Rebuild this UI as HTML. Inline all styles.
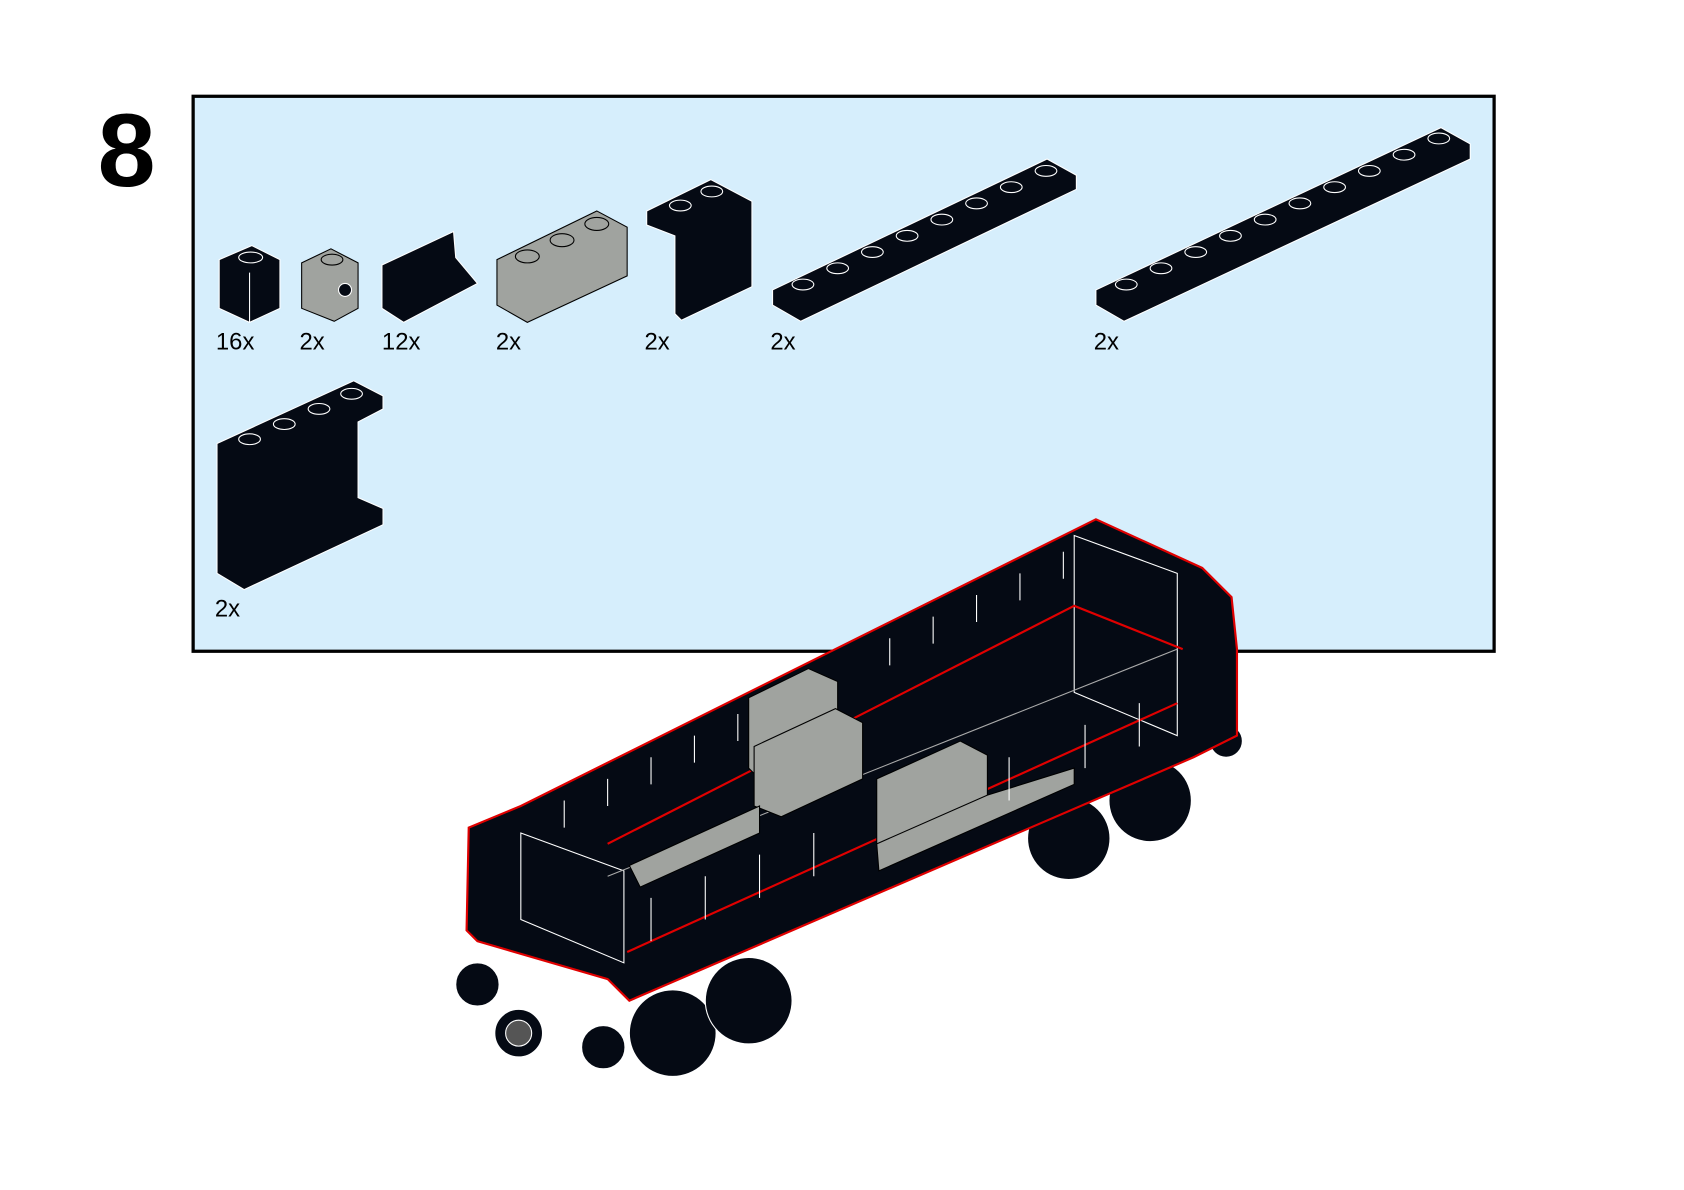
<!DOCTYPE html>
<html><head><style>html,body{margin:0;padding:0;background:#fff}svg{display:block}</style></head><body>
<svg width="1684" height="1190" viewBox="0 0 1552 1100" preserveAspectRatio="none" xmlns="http://www.w3.org/2000/svg" font-family="Liberation Sans, sans-serif">
<rect width="1552" height="1100" fill="#fff"/>
<text x="90" y="172" font-size="96" font-weight="bold">8</text>
<rect x="178" y="89" width="1199" height="513" fill="#d6eefc" stroke="#000" stroke-width="3"/>
<g fill="#050a14" stroke="#fff" stroke-width="1">
<!-- 1x1 brick -->
<polygon points="202,240 232,227 258,240 258,285 230,298 202,285"/>
<line x1="230" y1="252" x2="230" y2="298"/>
<ellipse cx="231" cy="238" rx="11" ry="5"/>
<!-- gray 1x1 -->
<polygon points="278,243 305,230 330,243 330,285 308,297 278,285" fill="#a0a39f" stroke="#000"/>
<ellipse cx="306" cy="240" rx="10" ry="5" fill="#a0a39f" stroke="#000"/>
<circle cx="318" cy="268" r="6" fill="#050a14"/>
<!-- panel -->
<polygon points="352,245 418,214 420,238 440,262 372,298 352,285"/>
<!-- gray 1x3 -->
<polygon points="458,240 550,195 578,210 578,255 486,298 458,282" fill="#a0a39f" stroke="#000"/>
<ellipse cx="486" cy="237" rx="11" ry="6" fill="#a0a39f" stroke="#000"/>
<ellipse cx="518" cy="222" rx="11" ry="6" fill="#a0a39f" stroke="#000"/>
<ellipse cx="550" cy="207" rx="11" ry="6" fill="#a0a39f" stroke="#000"/>
<!-- bracket 2x -->
<polygon points="596,195 655,166 693,186 693,265 628,296 622,290 622,218 596,208"/>
<ellipse cx="627" cy="190" rx="10" ry="5"/><ellipse cx="656" cy="177" rx="10" ry="5"/>
<!-- plates -->
<polygon points="712,268 965,147 992,162 992,175 738,297 712,282"/>
<polygon points="1010,268 1328,118 1355,133 1355,147 1036,297 1010,282"/>
<g>
<ellipse cx="740" cy="263" rx="10" ry="5"/><ellipse cx="772" cy="248" rx="10" ry="5"/><ellipse cx="804" cy="233" rx="10" ry="5"/><ellipse cx="836" cy="218" rx="10" ry="5"/><ellipse cx="868" cy="203" rx="10" ry="5"/><ellipse cx="900" cy="188" rx="10" ry="5"/><ellipse cx="932" cy="173" rx="10" ry="5"/><ellipse cx="964" cy="158" rx="10" ry="5"/>
<ellipse cx="1038" cy="263" rx="10" ry="5"/><ellipse cx="1070" cy="248" rx="10" ry="5"/><ellipse cx="1102" cy="233" rx="10" ry="5"/><ellipse cx="1134" cy="218" rx="10" ry="5"/><ellipse cx="1166" cy="203" rx="10" ry="5"/><ellipse cx="1198" cy="188" rx="10" ry="5"/><ellipse cx="1230" cy="173" rx="10" ry="5"/><ellipse cx="1262" cy="158" rx="10" ry="5"/><ellipse cx="1294" cy="143" rx="10" ry="5"/><ellipse cx="1326" cy="128" rx="10" ry="5"/>
</g>
<!-- big panel -->
<polygon points="200,410 326,352 353,366 353,378 330,390 330,460 353,470 353,485 225,545 200,530"/>
<ellipse cx="230" cy="406" rx="10" ry="5"/><ellipse cx="262" cy="392" rx="10" ry="5"/><ellipse cx="294" cy="378" rx="10" ry="5"/><ellipse cx="324" cy="364" rx="10" ry="5"/>
</g>
<g font-size="22" fill="#000">
<text x="199" y="323">16x</text><text x="276" y="323">2x</text><text x="352" y="323">12x</text><text x="457" y="323">2x</text><text x="594" y="323">2x</text><text x="710" y="323">2x</text><text x="1008" y="323">2x</text><text x="198" y="570">2x</text>
</g>
<!-- train -->
<g stroke="#fff" stroke-width="1">
<circle cx="440" cy="910" r="20" fill="#050a14"/>
<circle cx="556" cy="968" r="20" fill="#050a14"/>
<circle cx="478" cy="955" r="22" fill="#050a14"/>
<circle cx="478" cy="955" r="12" fill="#555"/>
<circle cx="620" cy="955" r="40" fill="#050a14"/>
<circle cx="690" cy="925" r="40" fill="#050a14"/>
<circle cx="985" cy="775" r="38" fill="#050a14"/>
<circle cx="1060" cy="740" r="38" fill="#050a14"/>
<circle cx="1130" cy="685" r="15" fill="#050a14"/>
<polygon points="432,765 480,745 1010,480 1108,525 1135,552 1140,600 1140,680 1100,700 580,925 560,905 440,870 430,860" fill="#050a14" stroke="#e00000" stroke-width="2"/>
<polygon points="480,770 575,805 575,890 480,850" fill="#050a14"/>
<polygon points="990,495 1085,530 1085,680 990,640" fill="#050a14"/>
<polyline points="560,780 990,560 1090,600" fill="none" stroke="#e00000" stroke-width="2"/>
<polyline points="560,810 1085,600" fill="none" stroke="#aaa"/>
<polyline points="578,880 1085,650" fill="none" stroke="#e00000" stroke-width="2"/>
<polygon points="690,645 745,618 772,630 772,690 700,720 690,710" fill="#a0a39f" stroke="#000"/>
<polygon points="695,690 770,655 795,668 795,720 720,755 695,745" fill="#a0a39f" stroke="#000"/>
<polygon points="808,720 885,685 910,698 910,750 835,790 808,780" fill="#a0a39f" stroke="#000"/>
<polygon points="808,780 910,735 990,710 990,725 810,805" fill="#a0a39f" stroke="#000"/>
<polygon points="580,800 700,745 700,770 590,820" fill="#a0a39f" stroke="#000"/>
</g>
<g stroke="#fff" fill="none" stroke-width="1">
<path d="M520,740 v25 M560,720 v25 M600,700 v25 M640,680 v25 M680,660 v25 M820,590 v25 M860,570 v25 M900,550 v25 M940,530 v25 M980,510 v25"/>
<path d="M600,830 v40 M650,810 v40 M700,790 v40 M750,770 v40 M930,700 v40 M1000,670 v40 M1050,650 v40"/>
</g>
</svg>
</body></html>
